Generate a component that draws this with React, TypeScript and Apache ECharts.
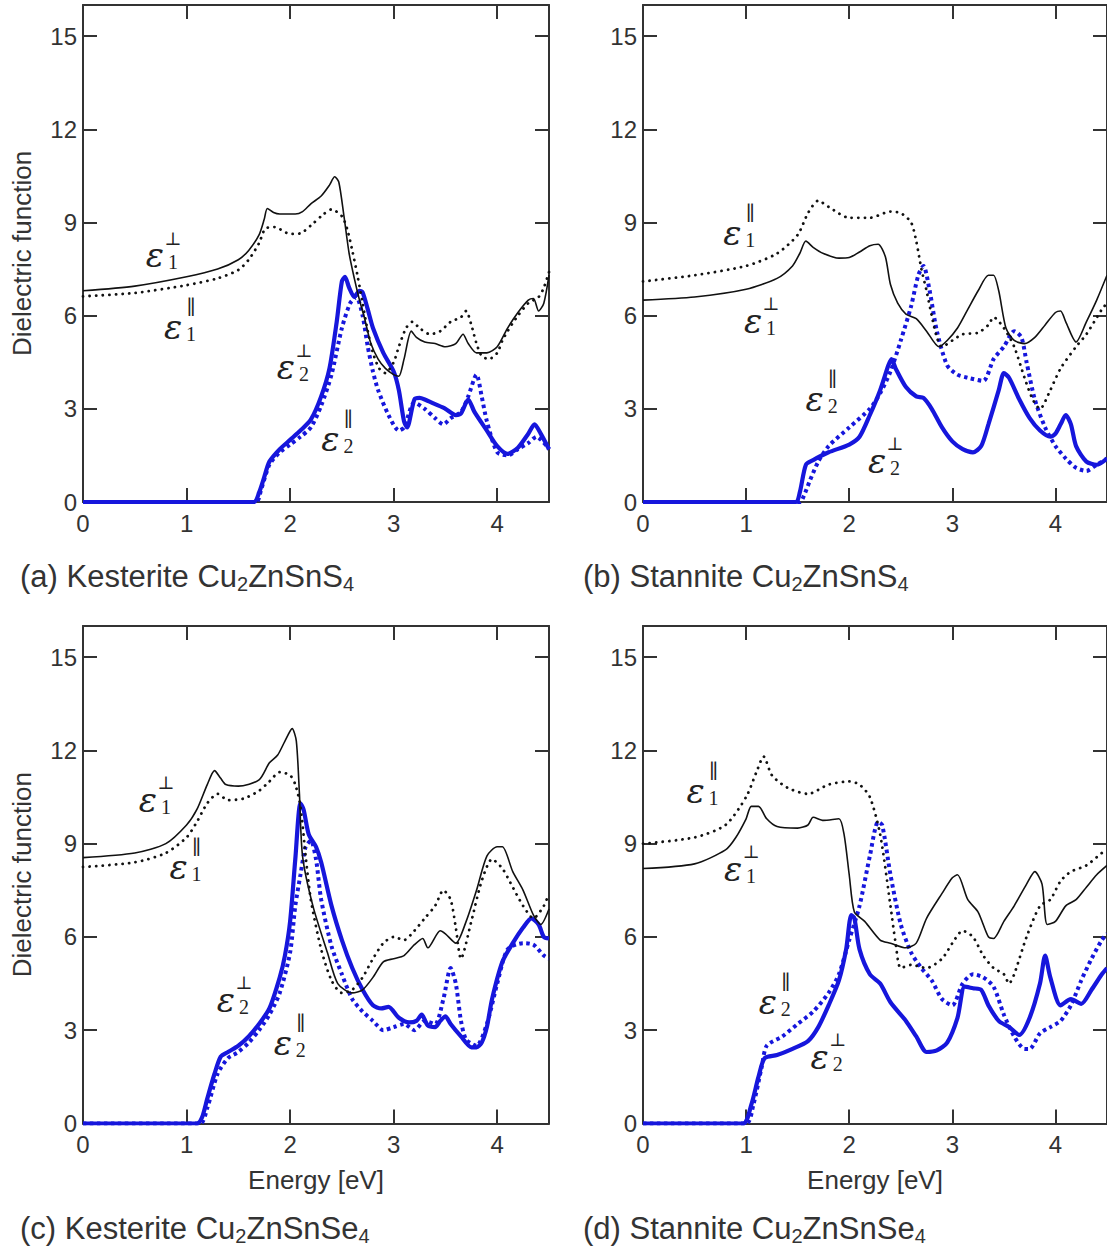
import React, { useEffect, useRef } from "react";
import * as echarts from "echarts";

type P = [number, number][];

// Energy axis ticks / value axis ticks
const xTickMax = 4.5;
const yTickMax = 16;

// (a) Kesterite Cu2ZnSnS4
const aE1perp: P = [[0,6.8],[0.5,6.95],[1.0,7.25],[1.3,7.5],[1.5,7.8],[1.6,8.1],[1.7,8.6],[1.75,9.1],[1.78,9.45],[1.84,9.32],[1.9,9.27],[2.05,9.27],[2.12,9.35],[2.2,9.6],[2.3,9.85],[2.38,10.2],[2.43,10.47],[2.47,10.3],[2.52,9.2],[2.57,8.0],[2.62,7.2],[2.67,6.5],[2.72,5.9],[2.78,5.1],[2.85,4.6],[2.92,4.3],[3.0,4.1],[3.05,4.05],[3.1,4.6],[3.17,5.5],[3.22,5.3],[3.3,5.15],[3.4,5.1],[3.5,5.0],[3.6,5.1],[3.67,5.4],[3.72,5.1],[3.8,4.8],[3.9,4.8],[4.0,5.0],[4.1,5.6],[4.2,6.1],[4.3,6.5],[4.35,6.55],[4.4,6.15],[4.45,6.4],[4.5,7.3]];
const aE1par: P = [[0,6.62],[0.5,6.73],[1.0,6.98],[1.3,7.2],[1.5,7.47],[1.6,7.8],[1.7,8.33],[1.76,8.8],[1.85,8.85],[2.0,8.63],[2.1,8.65],[2.2,8.9],[2.3,9.2],[2.4,9.42],[2.5,9.2],[2.55,8.8],[2.6,8.1],[2.65,7.3],[2.7,6.4],[2.75,5.5],[2.8,4.8],[2.86,4.3],[2.92,4.15],[3.0,4.5],[3.05,5.0],[3.12,5.6],[3.18,5.8],[3.25,5.6],[3.35,5.4],[3.45,5.5],[3.55,5.8],[3.65,5.95],[3.7,6.15],[3.75,5.7],[3.8,5.1],[3.85,4.7],[3.92,4.6],[4.0,4.8],[4.05,5.2],[4.1,5.5],[4.2,6.0],[4.3,6.4],[4.4,6.6],[4.45,6.9],[4.5,7.4]];
const aE2perp: P = [[0,0],[1.65,0],[1.7,0.3],[1.75,0.8],[1.8,1.3],[1.9,1.7],[2.0,2.0],[2.1,2.3],[2.2,2.65],[2.3,3.4],[2.38,4.3],[2.45,5.8],[2.5,7.1],[2.53,7.25],[2.57,6.9],[2.62,6.6],[2.67,6.8],[2.7,6.75],[2.75,6.2],[2.8,5.6],[2.9,4.8],[3.0,4.2],[3.05,3.6],[3.1,2.6],[3.13,2.4],[3.2,3.3],[3.25,3.35],[3.3,3.3],[3.4,3.15],[3.5,3.0],[3.6,2.8],[3.65,2.85],[3.72,3.3],[3.78,2.9],[3.9,2.3],[4.0,1.8],[4.1,1.55],[4.2,1.75],[4.3,2.2],[4.36,2.5],[4.42,2.2],[4.5,1.7]];
const aE2par: P = [[0,0],[1.67,0],[1.72,0.4],[1.8,1.2],[1.9,1.6],[2.0,1.85],[2.1,2.1],[2.2,2.4],[2.3,3.1],[2.4,4.1],[2.5,5.6],[2.58,6.4],[2.64,6.6],[2.7,6.0],[2.75,5.0],[2.8,4.2],[2.85,3.6],[2.95,2.8],[3.05,2.3],[3.1,2.4],[3.2,3.2],[3.3,3.0],[3.4,2.7],[3.48,2.5],[3.55,2.7],[3.65,2.9],[3.72,3.4],[3.8,4.1],[3.85,3.4],[3.9,2.6],[4.0,1.6],[4.1,1.5],[4.2,1.7],[4.3,1.9],[4.38,2.1],[4.5,1.7]];

// (b) Stannite Cu2ZnSnS4
const bE1perp: P = [[0,6.5],[0.5,6.6],[1.0,6.85],[1.3,7.2],[1.45,7.6],[1.52,8.0],[1.58,8.4],[1.65,8.2],[1.75,8.0],[1.9,7.85],[2.0,7.87],[2.1,8.05],[2.2,8.25],[2.28,8.3],[2.35,7.9],[2.4,7.0],[2.47,6.4],[2.55,6.05],[2.65,5.9],[2.75,5.5],[2.87,5.0],[2.95,5.2],[3.05,5.6],[3.15,6.2],[3.25,6.8],[3.35,7.3],[3.4,7.3],[3.45,6.8],[3.52,5.6],[3.6,5.2],[3.7,5.1],[3.8,5.3],[3.9,5.7],[4.0,6.1],[4.05,6.15],[4.1,5.8],[4.2,5.15],[4.3,5.8],[4.4,6.5],[4.5,7.3]];
const bE1par: P = [[0,7.1],[0.5,7.3],[1.0,7.6],[1.3,8.0],[1.5,8.6],[1.6,9.3],[1.7,9.7],[1.8,9.5],[2.0,9.15],[2.2,9.15],[2.4,9.35],[2.5,9.3],[2.6,9.0],[2.65,8.4],[2.7,7.5],[2.75,6.8],[2.8,6.0],[2.85,5.3],[2.9,5.0],[3.0,5.2],[3.1,5.4],[3.25,5.45],[3.35,5.7],[3.4,5.95],[3.5,5.6],[3.6,5.0],[3.7,4.0],[3.78,3.3],[3.85,3.0],[3.95,3.6],[4.05,4.3],[4.2,5.0],[4.3,5.4],[4.45,6.2],[4.5,6.4]];
const bE2perp: P = [[0,0],[1.48,0],[1.52,0.3],[1.58,1.2],[1.65,1.35],[1.8,1.6],[2.0,1.85],[2.1,2.1],[2.2,2.8],[2.3,3.6],[2.38,4.4],[2.41,4.6],[2.45,4.3],[2.55,3.7],[2.65,3.4],[2.72,3.35],[2.8,3.0],[2.9,2.4],[3.0,1.95],[3.1,1.7],[3.2,1.6],[3.28,1.8],[3.35,2.5],[3.45,3.6],[3.5,4.15],[3.55,4.0],[3.65,3.3],[3.75,2.7],[3.85,2.3],[3.95,2.1],[4.0,2.2],[4.05,2.5],[4.1,2.8],[4.15,2.5],[4.2,1.8],[4.3,1.3],[4.4,1.2],[4.5,1.4]];
const bE2par: P = [[0,0],[1.52,0],[1.56,0.2],[1.62,0.7],[1.7,1.3],[1.8,1.8],[2.0,2.4],[2.2,3.0],[2.3,3.5],[2.4,4.2],[2.5,5.2],[2.6,6.3],[2.67,7.3],[2.72,7.6],[2.78,6.8],[2.85,5.5],[2.95,4.4],[3.05,4.1],[3.15,4.0],[3.3,3.9],[3.4,4.6],[3.5,5.0],[3.6,5.5],[3.67,5.3],[3.72,4.5],[3.8,3.3],[3.9,2.4],[4.0,1.8],[4.1,1.4],[4.2,1.1],[4.3,1.0],[4.4,1.2],[4.5,1.4]];

// (c) Kesterite Cu2ZnSnSe4
const cE1perp: P = [[0,8.55],[0.5,8.7],[0.8,9.0],[1.0,9.6],[1.1,10.1],[1.2,10.9],[1.27,11.35],[1.33,11.1],[1.38,10.9],[1.5,10.85],[1.7,11.05],[1.8,11.6],[1.88,11.85],[1.95,12.3],[2.02,12.7],[2.06,12.3],[2.09,10.6],[2.12,8.6],[2.22,7.0],[2.36,5.5],[2.46,4.5],[2.6,4.2],[2.7,4.3],[2.8,4.7],[2.9,5.2],[3.0,5.3],[3.1,5.4],[3.2,5.75],[3.28,5.95],[3.33,5.65],[3.45,6.2],[3.5,6.1],[3.6,5.8],[3.7,6.5],[3.8,7.5],[3.9,8.6],[4.0,8.9],[4.05,8.9],[4.15,8.1],[4.25,7.5],[4.35,6.7],[4.42,6.4],[4.5,6.9]];
const cE1par: P = [[0,8.25],[0.5,8.4],[0.8,8.7],[1.0,9.2],[1.1,9.7],[1.2,10.3],[1.3,10.6],[1.4,10.4],[1.55,10.45],[1.7,10.7],[1.8,11.0],[1.9,11.3],[2.0,11.2],[2.05,10.9],[2.1,10.2],[2.15,8.6],[2.2,7.2],[2.3,5.6],[2.4,4.6],[2.5,4.2],[2.6,4.3],[2.7,4.7],[2.8,5.3],[2.9,5.8],[3.0,6.0],[3.1,5.9],[3.2,6.2],[3.3,6.6],[3.4,7.0],[3.48,7.5],[3.55,7.2],[3.6,6.3],[3.65,5.3],[3.75,6.5],[3.85,7.8],[3.95,8.5],[4.05,8.2],[4.15,7.6],[4.25,7.0],[4.35,6.6],[4.45,7.0],[4.5,7.4]];
const cE2perp: P = [[0,0],[1.1,0],[1.15,0.2],[1.2,0.8],[1.27,1.6],[1.33,2.15],[1.4,2.3],[1.5,2.5],[1.6,2.8],[1.7,3.2],[1.8,3.7],[1.9,4.7],[1.95,5.4],[2.0,6.5],[2.05,8.5],[2.1,10.3],[2.13,10.1],[2.18,9.3],[2.25,8.9],[2.3,8.4],[2.4,7.0],[2.5,5.9],[2.6,5.0],[2.7,4.3],[2.8,3.8],[2.88,3.7],[2.95,3.75],[3.05,3.4],[3.15,3.25],[3.22,3.3],[3.27,3.5],[3.33,3.15],[3.4,3.1],[3.45,3.3],[3.5,3.45],[3.55,3.2],[3.65,2.8],[3.75,2.45],[3.8,2.45],[3.85,2.6],[3.9,3.1],[3.95,4.0],[4.05,5.2],[4.15,5.8],[4.25,6.3],[4.33,6.6],[4.4,6.4],[4.45,6.0],[4.5,5.95]];
const cE2par: P = [[0,0],[1.13,0],[1.2,0.5],[1.3,1.6],[1.4,2.1],[1.5,2.3],[1.6,2.6],[1.7,3.0],[1.8,3.5],[1.9,4.2],[2.0,5.5],[2.05,7.0],[2.1,8.0],[2.15,8.9],[2.2,9.1],[2.25,8.5],[2.3,7.2],[2.4,5.7],[2.5,4.8],[2.6,4.0],[2.7,3.6],[2.8,3.3],[2.9,3.0],[3.0,3.1],[3.1,3.2],[3.2,3.0],[3.3,3.3],[3.4,3.2],[3.48,4.0],[3.55,5.0],[3.6,4.5],[3.65,3.3],[3.7,2.7],[3.8,2.5],[3.9,3.2],[4.0,4.5],[4.1,5.6],[4.25,5.8],[4.35,5.75],[4.45,5.4],[4.5,5.3]];

// (d) Stannite Cu2ZnSnSe4
const dE1perp: P = [[0,8.2],[0.5,8.35],[0.8,8.8],[0.9,9.2],[1.0,9.8],[1.05,10.2],[1.12,10.2],[1.2,9.8],[1.3,9.55],[1.5,9.5],[1.6,9.6],[1.65,9.85],[1.75,9.75],[1.9,9.8],[1.95,9.3],[2.0,8.0],[2.05,6.8],[2.15,6.5],[2.3,5.9],[2.4,5.8],[2.55,5.65],[2.65,5.8],[2.75,6.6],[2.9,7.4],[3.0,7.9],[3.05,8.0],[3.15,7.2],[3.25,6.8],[3.35,6.0],[3.4,5.95],[3.5,6.5],[3.6,7.0],[3.72,7.7],[3.8,8.1],[3.87,7.7],[3.92,6.4],[4.0,6.5],[4.1,7.0],[4.2,7.2],[4.3,7.6],[4.4,8.0],[4.5,8.3]];
const dE1par: P = [[0,9.0],[0.5,9.2],[0.8,9.6],[1.0,10.5],[1.1,11.3],[1.17,11.8],[1.25,11.2],[1.4,10.8],[1.6,10.6],[1.8,10.9],[2.0,11.0],[2.1,10.9],[2.2,10.5],[2.3,9.3],[2.4,7.0],[2.45,5.8],[2.5,5.0],[2.6,5.1],[2.75,5.0],[2.9,5.3],[3.0,5.8],[3.1,6.2],[3.2,6.0],[3.3,5.4],[3.4,5.0],[3.5,4.8],[3.55,4.5],[3.6,4.8],[3.72,6.0],[3.85,7.0],[3.95,7.2],[4.05,7.8],[4.15,8.1],[4.3,8.3],[4.45,8.7],[4.5,8.8]];
const dE2perp: P = [[0,0],[0.97,0],[1.05,0.6],[1.12,1.5],[1.18,2.1],[1.3,2.2],[1.45,2.4],[1.6,2.65],[1.7,3.1],[1.8,3.8],[1.9,4.6],[1.97,5.6],[2.02,6.7],[2.05,6.6],[2.1,5.6],[2.2,4.8],[2.3,4.5],[2.4,3.9],[2.55,3.3],[2.65,2.8],[2.75,2.3],[2.85,2.35],[2.95,2.6],[3.05,3.4],[3.12,4.4],[3.2,4.35],[3.28,4.3],[3.35,3.8],[3.45,3.3],[3.55,3.1],[3.65,2.85],[3.75,3.4],[3.85,4.5],[3.9,5.4],[3.95,4.7],[4.05,3.8],[4.15,4.0],[4.25,3.85],[4.35,4.3],[4.45,4.8],[4.5,5.0]];
const dE2par: P = [[0,0],[1.0,0],[1.07,0.6],[1.15,1.8],[1.2,2.5],[1.35,2.8],[1.5,3.2],[1.65,3.6],[1.8,4.2],[1.9,4.8],[2.0,5.9],[2.1,7.0],[2.2,8.6],[2.28,9.7],[2.32,9.6],[2.4,8.0],[2.5,6.4],[2.6,5.5],[2.7,5.0],[2.8,4.6],[2.9,4.0],[3.0,3.8],[3.1,4.5],[3.2,4.8],[3.3,4.7],[3.4,4.4],[3.5,3.5],[3.6,2.8],[3.7,2.4],[3.75,2.4],[3.85,2.9],[3.95,3.1],[4.05,3.3],[4.15,3.8],[4.25,4.6],[4.35,5.3],[4.45,5.9],[4.5,6.1]];

// captions: [prefix, first subscript, middle, second subscript]
const captions: [string, string, string, string][] = [
  ["(a) Kesterite Cu", "2", "ZnSnS", "4"],
  ["(b) Stannite Cu", "2", "ZnSnS", "4"],
  ["(c) Kesterite Cu", "2", "ZnSnSe", "4"],
  ["(d) Stannite Cu", "2", "ZnSnSe", "4"],
];
const seriesSets: P[][] = [
  [aE1perp, aE1par, aE2perp, aE2par],
  [bE1perp, bE1par, bE2perp, bE2par],
  [cE1perp, cE1par, cE2perp, cE2par],
  [dE1perp, dE1par, dE2perp, dE2par],
];
const seriesNames = ["ε1⊥", "ε1∥", "ε2⊥", "ε2∥"];

// label anchors (data coordinates of the ε glyph centre): [panel, sup, sub, E, value]
const labelAnchors: [number, string, string, number, number][] = [
  [0, "⊥", "1", 0.695, 7.95], [0, "∥", "1", 0.87, 5.62], [0, "⊥", "2", 1.96, 4.33], [0, "∥", "2", 2.39, 2.03],
  [1, "∥", "1", 0.866, 8.67], [1, "⊥", "1", 1.067, 5.84], [1, "∥", "2", 1.665, 3.32], [1, "⊥", "2", 2.27, 1.32],
  [2, "⊥", "1", 0.627, 10.42], [2, "∥", "1", 0.923, 8.24], [2, "⊥", "2", 1.38, 3.98], [2, "∥", "2", 1.93, 2.6],
  [3, "∥", "1", 0.51, 10.7], [3, "⊥", "1", 0.874, 8.2], [3, "∥", "2", 1.211, 3.92], [3, "⊥", "2", 1.713, 2.14],
];

const grids = [
  { left: 83, top: 5, width: 466, height: 497 },
  { left: 643, top: 5, width: 467, height: 497 },
  { left: 83, top: 626, width: 466, height: 497.5 },
  { left: 643, top: 626, width: 467, height: 497.5 },
];
const captionPos = [[20, 576], [583, 576], [20, 1228], [583, 1228]];

const TXT = "#333";
const BLUE = "#1616dc";
const SANS = "Liberation Sans";

export default function App() {
  const ref = useRef<HTMLDivElement>(null);
  useEffect(() => {
    if (!ref.current) return;
    const chart = echarts.init(ref.current, null, { renderer: "svg" });
    const axisLine = { show: true, onZero: false, lineStyle: { color: TXT, width: 2 } };
    const tick = { show: true, inside: true, length: 14, lineStyle: { color: TXT, width: 2 } };
    const xAxis: any[] = [];
    const yAxis: any[] = [];
    const series: any[] = [];
    grids.forEach((g, i) => {
      const hasXName = i >= 2;
      const hasYName = i % 2 === 0;
      xAxis.push({
        gridIndex: i, type: "value", min: 0, max: xTickMax, interval: 1, position: "bottom",
        axisLine, axisTick: tick, splitLine: { show: false },
        axisLabel: { fontSize: 24, color: TXT, margin: 9, showMaxLabel: false, fontFamily: SANS },
        name: hasXName ? "Energy [eV]" : "", nameLocation: "middle", nameGap: 43,
        nameTextStyle: { fontSize: 26, color: TXT, fontFamily: SANS },
      });
      xAxis.push({
        gridIndex: i, type: "value", min: 0, max: xTickMax, interval: 1, position: "top",
        axisLine, axisTick: tick, splitLine: { show: false }, axisLabel: { show: false },
      });
      yAxis.push({
        gridIndex: i, type: "value", min: 0, max: yTickMax, interval: 3, position: "left",
        axisLine, axisTick: tick, splitLine: { show: false },
        axisLabel: { fontSize: 24, color: TXT, margin: 6, showMaxLabel: false, fontFamily: SANS },
        name: hasYName ? "Dielectric function" : "", nameLocation: "middle", nameGap: 48,
        nameTextStyle: { fontSize: 26, color: TXT, fontFamily: SANS },
      });
      yAxis.push({
        gridIndex: i, type: "value", min: 0, max: yTickMax, interval: 3, position: "right",
        axisLine, axisTick: tick, splitLine: { show: false }, axisLabel: { show: false },
      });
      const styles = [
        { color: "#111", width: 1.6, type: "solid" },
        { color: "#111", width: 2.8, type: [0.1, 6.5], cap: "round" },
        { color: BLUE, width: 4.2, type: "solid" },
        { color: BLUE, width: 4, type: [3.5, 3.5], cap: "butt" },
      ];
      const order = [1, 0, 3, 2];
      order.forEach((k) => {
        series.push({
          type: "line", name: seriesNames[k], xAxisIndex: i * 2, yAxisIndex: i * 2,
          data: seriesSets[i][k], showSymbol: false, symbol: "none", smooth: 0.25,
          lineStyle: styles[k], z: k >= 2 ? 3 : 4,
        });
      });
    });
    chart.setOption({
      animation: false,
      textStyle: { fontFamily: SANS },
      grid: grids.map((g) => ({ ...g, containLabel: false })),
      xAxis, yAxis, series,
    });
    const graphic: any[] = [];
    captions.forEach(([pre, s1, mid, s2], i) => {
      graphic.push({
        type: "text", x: captionPos[i][0], y: captionPos[i][1],
        style: {
          text: `{m|${pre}}{s|${s1}}{m|${mid}}{s|${s2}}`,
          fill: TXT, fontFamily: SANS, fontSize: 31, verticalAlign: "middle", align: "left",
          rich: {
            m: { fontSize: 31, lineHeight: 36, fontFamily: SANS, fill: TXT, verticalAlign: "middle" },
            s: { fontSize: 20, lineHeight: 20, fontFamily: SANS, fill: TXT, verticalAlign: "bottom" },
          },
        },
      });
    });
    labelAnchors.forEach(([p, sup, sub, e, v]) => {
      const pt = chart.convertToPixel({ gridIndex: p } as any, [e, v]) as number[];
      graphic.push({
        type: "group", x: pt[0], y: pt[1], z: 10,
        children: [
          { type: "text", x: 0, y: 0, style: { text: "ε", fontSize: 34, fontStyle: "italic", fontFamily: "DejaVu Serif", fill: "#222", align: "center", verticalAlign: "middle" } },
          { type: "text", x: 18, y: sup === "∥" ? -20 : -17, style: { text: sup, fontSize: sup === "∥" ? 20 : 18, fontFamily: "DejaVu Serif", fill: "#222", align: "center", verticalAlign: "middle" } },
          { type: "text", x: 18, y: 7, style: { text: sub, fontSize: 20, fontFamily: "Liberation Serif", fill: "#222", align: "center", verticalAlign: "middle" } },
        ],
      });
    });
    chart.setOption({ graphic });
    return () => chart.dispose();
  }, []);
  return <div ref={ref} style={{ position: "absolute", left: 0, top: 0, width: 1107, height: 1252 }} />;
}
